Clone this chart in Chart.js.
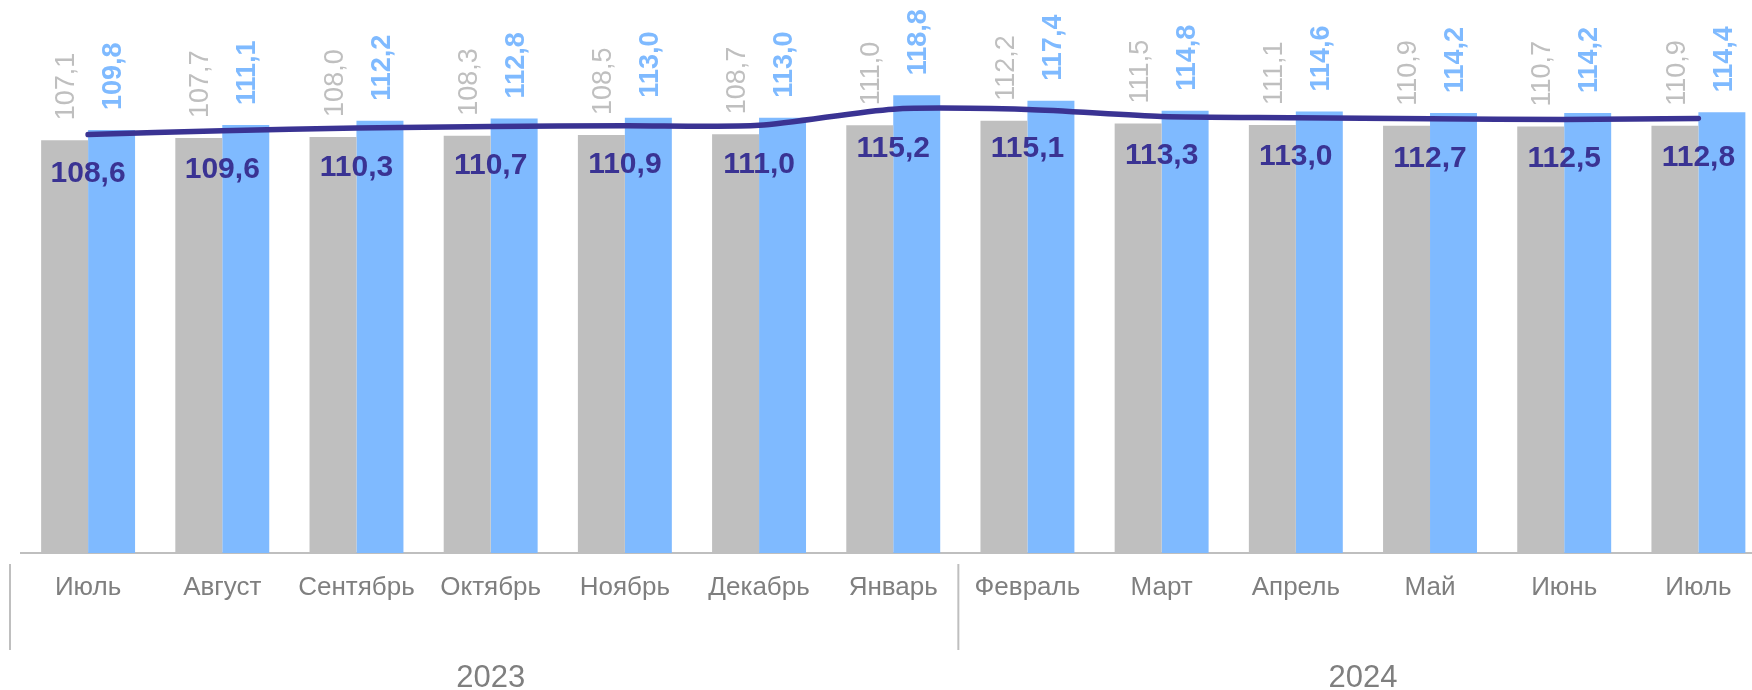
<!DOCTYPE html>
<html><head><meta charset="utf-8">
<script src="https://cdn.jsdelivr.net/npm/chart.js@4.4.1/dist/chart.umd.min.js"></script>
<style>
html,body{margin:0;padding:0;background:#fff;overflow:hidden;width:1752px;height:690px}
#wrap{width:1752px;height:690px;overflow:hidden;position:relative}
canvas{display:block}
</style></head>
<body><div id="wrap"><canvas id="c" width="1790" height="690"></canvas></div>
<script>
const categories = ['Июль','Август','Сентябрь','Октябрь','Ноябрь','Декабрь','Январь','Февраль','Март','Апрель','Май','Июнь','Июль'];
const seriesGray = [107.1,107.7,108.0,108.3,108.5,108.7,111.0,112.2,111.5,111.1,110.9,110.7,110.9];
const seriesBlue = [109.8,111.1,112.2,112.8,113.0,113.0,118.8,117.4,114.8,114.6,114.2,114.2,114.4];
const seriesLine = [108.6,109.6,110.3,110.7,110.9,111.0,115.2,115.1,113.3,113.0,112.7,112.5,112.8];
const yearLabels = ['2023','2024'];
const yearFirst = [0,7];
const yearLast = [6,12];

const FONT = "'Liberation Sans', Arial, sans-serif";
const GRAY = '#bfbfbf', BLUE = '#7fbaff', NAVY = '#3a3393', TEXT = '#7f7f7f';
const fmt = v => v.toFixed(1).replace('.', ',');

const labelsPlugin = {
  id: 'valueLabels',
  afterDatasetsDraw(chart) {
    const ctx = chart.ctx;
    [0, 1].forEach(di => {
      const meta = chart.getDatasetMeta(di);
      const ds = chart.data.datasets[di];
      const size = 27;
      meta.data.forEach((bar, i) => {
        ctx.save();
        ctx.translate(bar.x, bar.y - 20);
        ctx.rotate(-Math.PI / 2);
        ctx.font = (di === 1 ? 'bold ' : '') + size + 'px ' + FONT;
        ctx.fillStyle = ds.backgroundColor;
        ctx.textAlign = 'left';
        ctx.textBaseline = 'alphabetic';
        ctx.fillText(fmt(ds.data[i]), 0, size * 0.358);
        ctx.restore();
      });
    });
    const lm = chart.getDatasetMeta(2);
    const lds = chart.data.datasets[2];
    ctx.save();
    ctx.font = 'bold 30px ' + FONT;
    ctx.fillStyle = NAVY;
    ctx.textAlign = 'center';
    ctx.textBaseline = 'alphabetic';
    lm.data.forEach((pt, i) => {
      ctx.fillText(fmt(lds.data[i]), pt.x, pt.y + 37 + 30 * 0.358);
    });
    ctx.restore();
  },
  afterDraw(chart) {
    const ctx = chart.ctx;
    const xs = chart.scales.x;
    const area = chart.chartArea;
    ctx.save();
    ctx.strokeStyle = GRAY;
    ctx.lineWidth = 2;
    const seps = [area.left - 11, (xs.getPixelForValue(yearLast[0]) + xs.getPixelForValue(yearFirst[1])) / 2 - 2];
    seps.forEach(x => {
      ctx.beginPath();
      ctx.moveTo(x, area.bottom + 11);
      ctx.lineTo(x, area.bottom + 97);
      ctx.stroke();
    });
    ctx.fillStyle = TEXT;
    ctx.font = '31px ' + FONT;
    ctx.textAlign = 'center';
    ctx.textBaseline = 'alphabetic';
    yearLabels.forEach((lab, k) => {
      const x = (xs.getPixelForValue(yearFirst[k]) + xs.getPixelForValue(yearLast[k])) / 2;
      ctx.fillText(lab, x, area.bottom + 134);
    });
    ctx.restore();
  }
};

new Chart(document.getElementById('c'), {
  data: {
    labels: categories,
    datasets: [
      { type: 'bar', data: seriesGray, backgroundColor: GRAY, order: 2, categoryPercentage: 0.70, barPercentage: 1.0 },
      { type: 'bar', data: seriesBlue, backgroundColor: BLUE, order: 2, categoryPercentage: 0.70, barPercentage: 1.0 },
      { type: 'line', data: seriesLine, borderColor: NAVY, borderWidth: 5.5, pointRadius: 0, tension: 0.25, order: 0, borderCapStyle: 'round', fill: false }
    ]
  },
  options: {
    responsive: false,
    devicePixelRatio: 1,
    animation: false,
    plugins: { legend: { display: false }, tooltip: { enabled: false } },
    layout: { padding: { left: 21, right: 24.5, top: 13.6, bottom: 67.8 } },
    scales: {
      x: {
        offset: true,
        grid: { display: false, drawTicks: false },
        border: { display: true, color: GRAY, width: 2 },
        ticks: { color: TEXT, font: { family: FONT, size: 26 }, padding: 19, maxRotation: 0, autoSkip: false }
      },
      y: { display: false, min: 0, max: 140 }
    }
  },
  plugins: [labelsPlugin]
});
</script>
</body></html>
